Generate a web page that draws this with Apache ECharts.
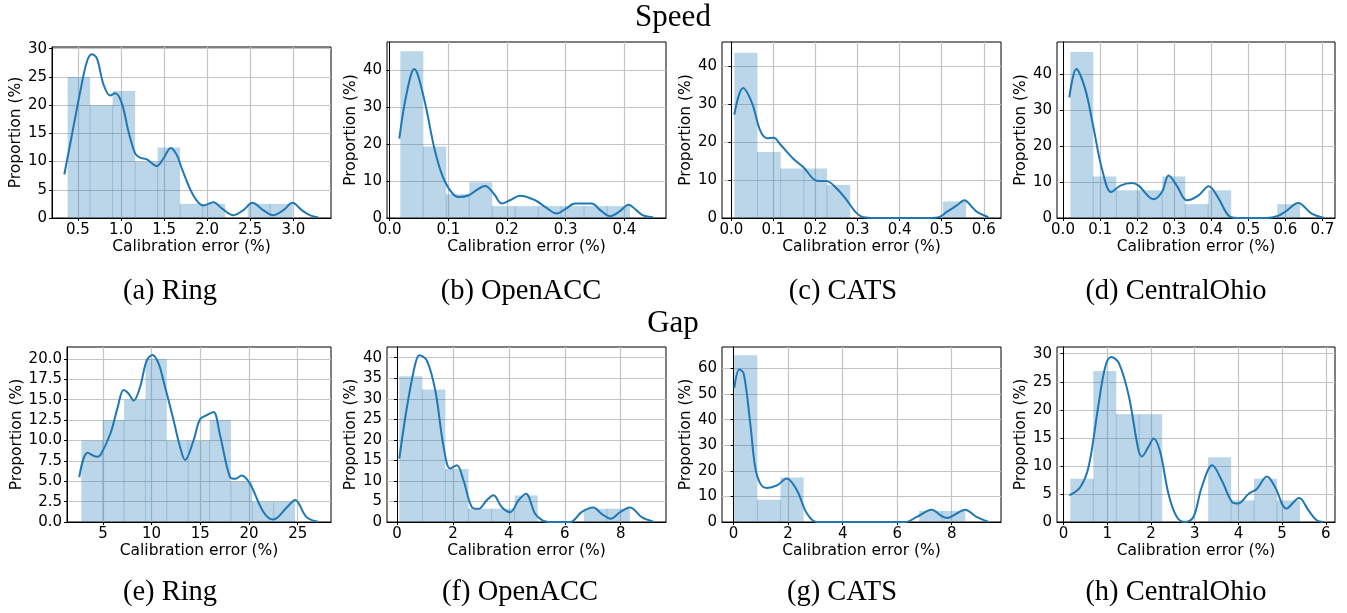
<!DOCTYPE html>
<html>
<head>
<meta charset="utf-8">
<script src="https://cdn.jsdelivr.net/npm/echarts@6/dist/echarts.min.js"></script>
<style>
  html, body { margin: 0; padding: 0; background: #ffffff; }
  #chart { width: 1347px; height: 613px; }
</style>
</head>
<body>
<div id="chart"></div>
<script>
// ---------- Speed: Ring ----------
const speedRingEdges = [0.380, 0.641, 0.902, 1.164, 1.425, 1.686, 1.947, 2.208, 2.470, 2.731, 2.992];
const speedRingProp = [25, 20, 22.5, 10, 12.5, 2.5, 2.5, 0, 2.5, 2.5];
const speedRingKde = [[0.342,7.7],[0.43,14.7],[0.527,22.4],[0.604,27.7],[0.662,29.0],[0.72,28.3],[0.798,23.6],[0.875,21.7],[0.933,22.1],[1.01,20.3],[1.087,15.3],[1.165,11.4],[1.22,10.7],[1.30,10.4],[1.416,9.2],[1.49,10.5],[1.578,12.4],[1.65,11.1],[1.705,8.8],[1.84,4.0],[1.957,2.2],[2.073,2.8],[2.17,1.7],[2.304,0.5],[2.42,1.4],[2.525,2.7],[2.65,1.4],[2.768,0.5],[2.885,1.4],[2.99,2.7],[3.097,1.4],[3.19,0.5],[3.29,0.1]];
const speedRingXTicks = [0.5, 1.0, 1.5, 2.0, 2.5, 3.0];
const speedRingYTicks = [0, 5, 10, 15, 20, 25, 30];

// ---------- Speed: OpenACC ----------
const speedOpenAccEdges = [0.0182, 0.0574, 0.0965, 0.1357, 0.1748, 0.2140, 0.2531, 0.2923, 0.3314, 0.3706, 0.4097];
const speedOpenAccProp = [45.16, 19.35, 6.45, 9.68, 3.23, 3.23, 3.23, 3.23, 3.23, 3.23];
const speedOpenAccKde = [[0.0165,21.5],[0.028,33.0],[0.042,40.4],[0.058,32.8],[0.0777,17.9],[0.0948,9.7],[0.117,5.7],[0.134,6.1],[0.163,8.7],[0.178,6.5],[0.191,3.9],[0.205,4.8],[0.222,6.0],[0.248,4.8],[0.265,3.0],[0.285,1.2],[0.300,2.5],[0.316,3.9],[0.344,3.9],[0.360,2.0],[0.376,0.5],[0.392,1.8],[0.407,3.6],[0.420,2.2],[0.432,0.7],[0.449,0.2]];
const speedOpenAccXTicks = [0.0, 0.1, 0.2, 0.3, 0.4];
const speedOpenAccYTicks = [0, 10, 20, 30, 40];

// ---------- Speed: CATS ----------
const speedCatsEdges = [0.0071, 0.0622, 0.1173, 0.1724, 0.2275, 0.2826, 0.3376, 0.3927, 0.4478, 0.5029, 0.5580];
const speedCatsProp = [43.48, 17.39, 13.04, 13.04, 8.70, 0, 0, 0, 0, 4.35];
const speedCatsKde = [[0.0071,27.2],[0.0277,34.2],[0.049,30.3],[0.069,22.9],[0.085,21.0],[0.1006,21.1],[0.116,19.4],[0.148,15.5],[0.172,13.3],[0.203,9.8],[0.227,9.7],[0.251,7.7],[0.275,4.6],[0.295,1.6],[0.314,0.2],[0.34,0],[0.47,0],[0.495,0.3],[0.512,1.6],[0.536,3.3],[0.554,4.7],[0.572,2.9],[0.584,1.6],[0.611,0.2]];
const speedCatsXTicks = [0.0, 0.1, 0.2, 0.3, 0.4, 0.5, 0.6];
const speedCatsYTicks = [0, 10, 20, 30, 40];

// ---------- Speed: CentralOhio ----------
const speedOhioEdges = [0.0198, 0.0818, 0.1438, 0.2059, 0.2679, 0.3299, 0.3919, 0.4539, 0.5160, 0.5780, 0.6400];
const speedOhioProp = [46.15, 11.54, 7.69, 7.69, 11.54, 3.85, 7.69, 0, 0, 3.85];
const speedOhioKde = [[0.0171,33.5],[0.036,41.4],[0.060,35.8],[0.083,24.7],[0.105,13.7],[0.130,7.2],[0.155,9.0],[0.186,9.7],[0.204,9.0],[0.244,5.2],[0.267,7.2],[0.285,11.8],[0.307,9.0],[0.334,4.9],[0.366,6.3],[0.393,8.8],[0.420,5.4],[0.4465,0.7],[0.47,0],[0.55,0],[0.58,0.6],[0.599,1.7],[0.635,4.2],[0.671,1.2],[0.703,0.1]];
const speedOhioXTicks = [0.0, 0.1, 0.2, 0.3, 0.4, 0.5, 0.6, 0.7];
const speedOhioYTicks = [0, 10, 20, 30, 40];

// ---------- Gap: Ring ----------
const gapRingEdges = [2.78, 4.975, 7.17, 9.365, 11.56, 13.755, 15.95, 18.145, 20.34, 22.535, 24.73];
const gapRingProp = [10, 12.5, 15, 20, 10, 10, 12.5, 5, 2.5, 2.5];
const gapRingKde = [[2.57,5.5],[3.43,8.5],[4.38,8.0],[4.73,8.2],[5.75,10.8],[6.5,14.0],[7.12,16.2],[7.6,15.8],[8.15,14.9],[8.8,16.5],[9.49,19.8],[10.1,20.5],[10.7,19.5],[11.2,17.4],[12.25,12.5],[12.9,9.3],[13.44,7.6],[14.3,10.0],[14.97,12.6],[15.66,13.1],[16.35,13.5],[17.0,10.8],[18.05,5.5],[18.6,5.3],[19.25,5.7],[20.1,4.7],[21.5,1.2],[22.5,0.3],[23.9,1.8],[24.73,2.7],[25.9,0.6],[27.1,0.04]];
const gapRingXTicks = [5, 10, 15, 20, 25];
const gapRingYTicks = [0, 2.5, 5, 7.5, 10, 12.5, 15, 17.5, 20];

// ---------- Gap: OpenACC ----------
const gapOpenAccEdges = [0.083, 0.908, 1.732, 2.557, 3.382, 4.207, 5.031, 5.856, 6.681, 7.505, 8.330];
const gapOpenAccProp = [35.48, 32.26, 12.90, 3.23, 3.23, 6.45, 0, 0, 3.23, 3.23];
const gapOpenAccKde = [[0.083,15.4],[0.357,28.0],[0.655,38.5],[0.80,40.6],[1.07,39.3],[1.37,32.0],[1.67,18.2],[1.9,13.0],[2.14,13.8],[2.38,10.1],[2.68,3.6],[2.92,3.2],[3.21,5.3],[3.45,6.5],[3.75,3.6],[4.05,2.4],[4.35,5.3],[4.61,6.9],[4.94,2.0],[5.2,0.4],[5.42,0],[6.2,0],[6.6,2.4],[7.02,3.5],[7.32,2.0],[7.64,0.8],[7.98,2.4],[8.33,3.5],[8.75,1.2],[9.17,0.1]];
const gapOpenAccXTicks = [0, 2, 4, 6, 8];
const gapOpenAccYTicks = [0, 5, 10, 15, 20, 25, 30, 35, 40];

// ---------- Gap: CATS ----------
const gapCatsEdges = [0.024, 0.872, 1.719, 2.567, 3.414, 4.262, 5.110, 5.957, 6.805, 7.652, 8.500];
const gapCatsProp = [65.22, 8.70, 17.39, 0, 0, 0, 0, 0, 4.35, 4.35];
const gapCatsKde = [[0.024,52.4],[0.21,59.6],[0.37,58.0],[0.61,38.5],[0.79,21.5],[0.98,15.0],[1.22,13.3],[1.59,14.3],[1.95,17.0],[2.32,12.4],[2.69,3.3],[3.05,0],[6.3,0],[6.72,2.0],[7.27,4.8],[7.63,2.3],[7.85,1.6],[8.1,2.8],[8.49,4.8],[8.91,2.0],[9.34,0.1]];
const gapCatsXTicks = [0, 2, 4, 6, 8];
const gapCatsYTicks = [0, 10, 20, 30, 40, 50, 60];

// ---------- Gap: CentralOhio ----------
const gapOhioEdges = [0.152, 0.678, 1.204, 1.729, 2.255, 2.781, 3.307, 3.833, 4.358, 4.884, 5.410];
const gapOhioProp = [7.69, 26.92, 19.23, 19.23, 0, 0, 11.54, 3.85, 7.69, 3.85];
const gapOhioKde = [[0.13,4.75],[0.38,6.2],[0.57,9.8],[0.79,20.5],[0.95,27.6],[1.09,29.4],[1.26,28.4],[1.49,22.5],[1.71,12.9],[1.79,11.7],[1.94,13.4],[2.06,14.9],[2.21,12.5],[2.40,5.0],[2.59,0.9],[2.78,0],[2.97,0.9],[3.16,6.2],[3.40,10.1],[3.62,7.4],[3.85,3.6],[4.0,3.3],[4.23,5.0],[4.42,5.9],[4.65,8.1],[4.84,6.2],[5.10,2.4],[5.39,4.3],[5.60,2.1],[5.79,0.3],[5.94,0]];
const gapOhioXTicks = [0, 1, 2, 3, 4, 5, 6];
const gapOhioYTicks = [0, 5, 10, 15, 20, 25, 30];

// Panel definitions: data arrays plus axis extents and pixel placement of each plot box
const panels = [
  { edges: speedRingEdges, prop: speedRingProp, kde: speedRingKde, xt: speedRingXTicks, yt: speedRingYTicks,
    xMin: 0.199, xMax: 3.437, yMax: 30.3, xDec: 1, yDec: 0, box: [52, 47, 279, 171], nameGap: 23 },
  { edges: speedOpenAccEdges, prop: speedOpenAccProp, kde: speedOpenAccKde, xt: speedOpenAccXTicks, yt: speedOpenAccYTicks,
    xMin: -0.0045, xMax: 0.471, yMax: 47.7, xDec: 1, yDec: 0, box: [387, 42, 279, 176], nameGap: 23 },
  { edges: speedCatsEdges, prop: speedCatsProp, kde: speedCatsKde, xt: speedCatsXTicks, yt: speedCatsYTicks,
    xMin: -0.0222, xMax: 0.641, yMax: 46.3, xDec: 1, yDec: 0, box: [722, 42, 279, 176], nameGap: 23 },
  { edges: speedOhioEdges, prop: speedOhioProp, kde: speedOhioKde, xt: speedOhioXTicks, yt: speedOhioYTicks,
    xMin: -0.0162, xMax: 0.734, yMax: 48.9, xDec: 1, yDec: 0, box: [1057, 42, 278, 176], nameGap: 23 },
  { edges: gapRingEdges, prop: gapRingProp, kde: gapRingKde, xt: gapRingXTicks, yt: gapRingYTicks,
    xMin: 1.31, xMax: 28.42, yMax: 21.47, xDec: 0, yDec: 1, box: [67, 347, 264, 175], nameGap: 38 },
  { edges: gapOpenAccEdges, prop: gapOpenAccProp, kde: gapOpenAccKde, xt: gapOpenAccXTicks, yt: gapOpenAccYTicks,
    xMin: -0.357, xMax: 9.62, yMax: 42.6, xDec: 0, yDec: 0, box: [387, 347, 279, 175], nameGap: 23 },
  { edges: gapCatsEdges, prop: gapCatsProp, kde: gapCatsKde, xt: gapCatsXTicks, yt: gapCatsYTicks,
    xMin: -0.427, xMax: 9.81, yMax: 68.4, xDec: 0, yDec: 0, box: [722, 347, 279, 175], nameGap: 23 },
  { edges: gapOhioEdges, prop: gapOhioProp, kde: gapOhioKde, xt: gapOhioXTicks, yt: gapOhioYTicks,
    xMin: -0.152, xMax: 6.21, yMax: 31.2, xDec: 0, yDec: 0, box: [1057, 347, 278, 175], nameGap: 23 }
];

const captions = [
  ['(a) Ring', 170, 291.5], ['(b) OpenACC', 521, 291.5], ['(c) CATS', 843, 291.5], ['(d) CentralOhio', 1176, 291.5],
  ['(e) Ring', 170, 593], ['(f) OpenACC', 520, 593], ['(g) CATS', 842, 593], ['(h) CentralOhio', 1176, 593]
];

const SANS = 'DejaVu Sans';
const SERIF = 'Liberation Serif';
const gridColor = '#c4c4c4';
const histFill = 'rgba(31,119,180,0.3)';
const seamColor = 'rgba(31,119,180,0.28)';
const kdeColor = '#1f77b4';

const grids = [], xAxes = [], yAxes = [], series = [];

panels.forEach((p, i) => {
  grids.push({
    left: p.box[0], top: p.box[1], width: p.box[2], height: p.box[3],
    show: true, borderColor: '#000', borderWidth: 1, backgroundColor: 'transparent'
  });
  xAxes.push({
    type: 'value', gridIndex: i, min: p.xMin, max: p.xMax,
    name: 'Calibration error (%)', nameLocation: 'middle', nameGap: 16,
    nameTextStyle: { fontFamily: SANS, fontSize: 15.5, color: '#000' },
    axisLine: { show: true, onZero: false, lineStyle: { color: '#000', width: 1 } },
    axisTick: { show: true, length: 3, customValues: p.xt, lineStyle: { color: '#000' } },
    axisLabel: { show: true, customValues: p.xt, margin: 5, fontFamily: SANS, fontSize: 15, color: '#000',
      formatter: v => Number(v).toFixed(p.xDec) },
    splitLine: { show: true, lineStyle: { color: gridColor, width: 1.2 } }
  });
  yAxes.push({
    type: 'value', gridIndex: i, min: 0, max: p.yMax,
    name: 'Proportion (%)', nameLocation: 'middle', nameGap: p.nameGap,
    nameTextStyle: { fontFamily: SANS, fontSize: 15.5, color: '#000' },
    axisLine: { show: true, lineStyle: { color: '#000', width: 1 } },
    axisTick: { show: true, length: 3, customValues: p.yt, lineStyle: { color: '#000' } },
    axisLabel: { show: true, customValues: p.yt, margin: 5, fontFamily: SANS, fontSize: 15, color: '#000',
      formatter: v => Number(v).toFixed(p.yDec) },
    splitLine: { show: true, lineStyle: { color: gridColor, width: 1.2 } }
  });
  // histogram bars spanning [edge_k, edge_k+1]; 4th value is the previous bar height (for the seam)
  series.push({
    type: 'custom', xAxisIndex: i, yAxisIndex: i, z: 2,
    data: p.prop.map((h, k) => [p.edges[k], p.edges[k + 1], h, k > 0 ? p.prop[k - 1] : 0]),
    encode: { x: [0, 1], y: 2 },
    renderItem: (params, api) => {
      const a = api.coord([api.value(0), 0]);
      const b = api.coord([api.value(1), api.value(2)]);
      const seamTop = api.coord([api.value(0), Math.min(api.value(2), api.value(3))]);
      const children = [{
        type: 'rect',
        shape: { x: a[0], y: b[1], width: b[0] - a[0], height: a[1] - b[1] },
        style: { fill: histFill }
      }];
      if (Math.min(api.value(2), api.value(3)) > 0) {
        children.push({
          type: 'line',
          shape: { x1: a[0], y1: a[1], x2: a[0], y2: seamTop[1] },
          style: { stroke: seamColor, lineWidth: 1 }
        });
      }
      return { type: 'group', children };
    }
  });
  // density curve
  series.push({
    type: 'line', xAxisIndex: i, yAxisIndex: i, z: 3,
    data: p.kde, smooth: 0.35, symbol: 'none',
    lineStyle: { color: kdeColor, width: 2 }
  });
});

const graphics = [
  { type: 'text', x: 673, y: 18, style: { text: 'Speed', font: '31px "' + SERIF + '"', fill: '#000', textAlign: 'center', textVerticalAlign: 'middle' } },
  { type: 'text', x: 673, y: 324, style: { text: 'Gap', font: '31px "' + SERIF + '"', fill: '#000', textAlign: 'center', textVerticalAlign: 'middle' } }
];
captions.forEach(c => graphics.push({
  type: 'text', x: c[1], y: c[2],
  style: { text: c[0], font: '28.5px "' + SERIF + '"', fill: '#000', textAlign: 'center', textVerticalAlign: 'middle' }
}));

const chart = echarts.init(document.getElementById('chart'), null, { renderer: 'canvas' });
chart.setOption({
  animation: false,
  backgroundColor: '#ffffff',
  grid: grids,
  xAxis: xAxes,
  yAxis: yAxes,
  series: series,
  graphic: graphics
});
</script>
</body>
</html>
